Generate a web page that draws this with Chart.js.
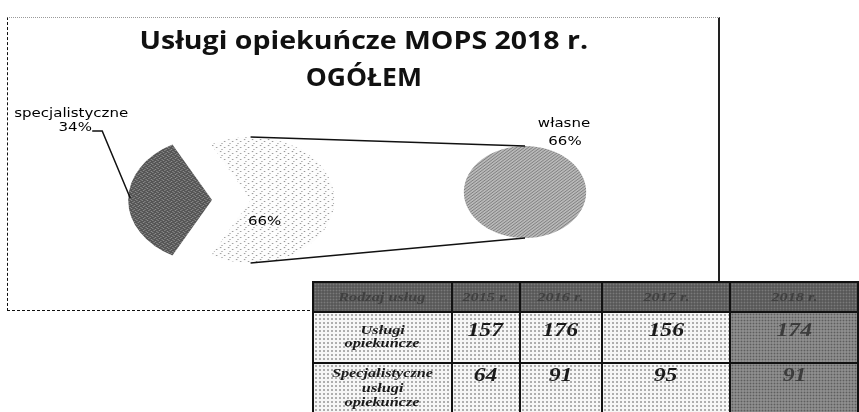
<!DOCTYPE html>
<html lang="pl">
<head>
<meta charset="utf-8">
<script src="https://cdn.jsdelivr.net/npm/chart.js@4.4.1/dist/chart.umd.min.js"></script>
<style>
  html, body { margin: 0; padding: 0; background: #fff; }
  body { width: 859px; height: 412px; position: relative; overflow: hidden; }
  #frame {
    position: absolute; left: 7px; top: 17px; width: 710px; height: 292px;
    border-top: 1px dotted #9a9a9a; border-left: 1px dashed #111;
    border-right: 2px solid #222; border-bottom: 1px dashed #111;
  }
  #frame canvas { position: absolute; left: 0; top: 0; }
  #title {
    position: absolute; left: 7px; top: 21px; width: 713px; text-align: center;
    font-family: "Open Sans", sans-serif; font-weight: 700; font-size: 25px; line-height: 37px; color: #111;
  }
  #title span { display: inline-block; }
  #tbl {
    position: absolute; left: 312px; top: 281px; border-collapse: collapse; table-layout: fixed;
    font-family: "Liberation Serif", serif; font-style: italic; font-weight: bold; color: #1a1a1a;
  }
  #tbl td, #tbl th { border: 2px solid #111; padding: 0; text-align: center; vertical-align: top; overflow: hidden; }
  #tbl th {
    height: 28px; vertical-align: middle; font-size: 13px; color: #404040;
    background: #595959 radial-gradient(circle, #7a7a7a 0.8px, transparent 1.1px); background-size: 3px 3px;
  }
  #tbl td {
    background: #f6f6f6 radial-gradient(circle, #acacac 0.7px, transparent 1px); background-size: 4px 4px;
  }
  #tbl td.hl {
    color: #3c3c3c;
    background: #8d8d8d radial-gradient(circle, #5e5e5e 0.8px, transparent 1.1px); background-size: 3px 3px;
  }
  #tbl span { display: inline-block; transform: scaleX(1.25); }
  #tbl .num { font-size: 19px; line-height: 20px; }
  #tbl .lab { font-size: 13px; }
  #tbl tr.r1 td { height: 49px; }
  #tbl tr.r1 .lab { padding-top: 10px; line-height: 13px; }
  #tbl tr.r1 .num { padding-top: 7px; }
  #tbl tr.r2 td { height: 60px; }
  #tbl tr.r2 .lab { padding-top: 2px; line-height: 14.5px; }
  #tbl tr.r2 .num { padding-top: 1px; }
</style>
</head>
<body>
<div id="frame">
  <canvas id="mainPie" width="710" height="292"></canvas>
  <canvas id="secondPie" width="710" height="292"></canvas>
</div>
<div id="title"><span style="transform:scaleX(1.14)">Usługi opiekuńcze MOPS 2018 r.</span><br><span style="transform:scaleX(1.06)">OGÓŁEM</span></div>
<table id="tbl"></table>

<script>
// 2018: specjalistyczne vs własne (pie of pie)
const categories = ['specjalistyczne', 'własne'];
const values2018 = [91, 174];
const secondCategories = ['własne'];
const secondValues = [174];

// table under the chart
const tableHead = ['Rodzaj usług', '2015 r.', '2016 r.', '2017 r.', '2018 r.'];
const rowLabels = [['Usługi', 'opiekuńcze'], ['Specjalistyczne', 'usługi', 'opiekuńcze']];
const uslugiOpiekuncze = [157, 176, 156, 174];
const uslugiSpecjalistyczne = [64, 91, 95, 91];

const SX = 1.33;          // the scan is stretched sideways
const explode = [0, 29];  // how far each slice of the main pie is pulled out
const total = values2018.reduce((s, v) => s + v, 0);
const pct = v => Math.round(v / total * 100) + '%';

function pattern(base, dot, pts, size) {
  const c = document.createElement('canvas');
  c.width = size; c.height = size;
  const g = c.getContext('2d');
  g.fillStyle = base; g.fillRect(0, 0, size, size);
  g.fillStyle = dot;
  pts.forEach(p => g.fillRect(p[0], p[1], 1, 1));
  return g.createPattern(c, 'repeat');
}

function drawText(ctx, text, x, y) {
  ctx.save();
  ctx.translate(x, y);
  ctx.scale(1.25, 1);
  ctx.font = '12px "DejaVu Sans"';
  ctx.fillStyle = '#000';
  ctx.textAlign = 'center';
  ctx.textBaseline = 'middle';
  ctx.fillText(text, 0, 0);
  ctx.restore();
}

// centre of an exploded slice, in (stretched) canvas coords
function sliceCentre(arc, i) {
  const mid = (arc.startAngle + arc.endAngle) / 2;
  const d = explode[i] || 0;
  return { x: arc.x + Math.cos(mid) * d * SX, y: arc.y + Math.sin(mid) * d };
}

const stretch = {
  id: 'stretch',
  beforeDatasetsDraw(chart) {
    const a = chart.getDatasetMeta(0).data[0];
    const ctx = chart.ctx;
    ctx.save();
    ctx.translate(a.x, a.y);
    ctx.scale(SX, 1);
    ctx.translate(-a.x, -a.y);
  },
  afterDatasetsDraw(chart) {
    chart.ctx.restore();
  }
};

// pull slices out without Chart.js growing their radius
const explodeSlices = {
  id: 'explodeSlices',
  beforeDatasetDraw(chart, args) {
    const ctx = chart.ctx;
    args.meta.data.forEach((arc, i) => {
      const mid = (arc.startAngle + arc.endAngle) / 2;
      const d = explode[i] || 0;
      ctx.save();
      ctx.translate(Math.cos(mid) * d, Math.sin(mid) * d);
      arc.draw(ctx);
      ctx.restore();
    });
    return false;
  }
};

const mainLabels = {
  id: 'mainLabels',
  afterDraw(chart) {
    const ctx = chart.ctx;
    const meta = chart.getDatasetMeta(0);
    const a0 = meta.data[0];
    const ex = a0.x - a0.outerRadius * SX, ey = a0.y;
    ctx.save();
    ctx.strokeStyle = '#111';
    ctx.lineWidth = 1.5;
    ctx.beginPath();
    ctx.moveTo(ex + 2, ey - 2);
    ctx.lineTo(ex - 26, ey - 69);
    ctx.lineTo(ex - 36, ey - 69);
    ctx.stroke();
    ctx.restore();
    drawText(ctx, categories[0], ex - 57, ey - 86);
    drawText(ctx, pct(values2018[0]), ex - 53, ey - 72);

    const c = sliceCentre(meta.data[1], 1);
    drawText(ctx, pct(values2018[1]), c.x + 14, c.y + 22);
  }
};

const mainChart = new Chart(document.getElementById('mainPie'), {
  type: 'pie',
  data: {
    labels: ['specjalistyczne', 'inne'],
    datasets: [{
      data: values2018,
      backgroundColor: [
        pattern('#555555', '#8e8e8e', [[0, 0], [2, 1], [1, 3], [3, 2]], 4),
        pattern('#fdfdfd', '#979797', [[1, 1], [4, 3], [2, 5]], 6)
      ],
      borderWidth: 0
    }]
  },
  options: {
    responsive: false,
    animation: false,
    events: [],
    radius: 63,
    rotation: 270 - values2018[0] / total * 180,
    layout: { padding: { left: 0, right: 302, top: 100, bottom: 28 } },
    plugins: { legend: { display: false }, tooltip: { enabled: false } }
  },
  plugins: [stretch, explodeSlices, mainLabels]
});

const secondLabels = {
  id: 'secondLabels',
  afterDraw(chart) {
    const ctx = chart.ctx;
    const b = chart.getDatasetMeta(0).data[0];
    const a1 = mainChart.getDatasetMeta(0).data[1];
    const c = sliceCentre(a1, 1);
    const r = a1.outerRadius, rb = b.outerRadius;
    ctx.save();
    ctx.strokeStyle = '#111';
    ctx.lineWidth = 1.5;
    ctx.beginPath();
    ctx.moveTo(c.x, c.y - r);
    ctx.lineTo(b.x, b.y - rb);
    ctx.moveTo(c.x, c.y + r);
    ctx.lineTo(b.x, b.y + rb);
    ctx.stroke();
    ctx.restore();
    drawText(ctx, secondCategories[0], b.x + 39, b.y - 68);
    drawText(ctx, pct(secondValues[0]), b.x + 40, b.y - 50);
  }
};

new Chart(document.getElementById('secondPie'), {
  type: 'pie',
  data: {
    labels: secondCategories,
    datasets: [{
      data: secondValues,
      backgroundColor: [pattern('#b9b9b9', '#808080', [[0, 0], [2, 1], [1, 2]], 3)],
      borderWidth: 0
    }]
  },
  options: {
    responsive: false,
    animation: false,
    events: [],
    radius: 46,
    layout: { padding: { left: 417, right: 93, top: 74, bottom: 18 } },
    plugins: { legend: { display: false }, tooltip: { enabled: false } }
  },
  plugins: [stretch, secondLabels]
});

// table
const colWidths = [140, 69, 83, 131, 130];
let html = '<colgroup>' + colWidths.map(w => `<col style="width:${w}px">`).join('') + '</colgroup>';
html += '<tr>' + tableHead.map(h => `<th><span>${h}</span></th>`).join('') + '</tr>';
[uslugiOpiekuncze, uslugiSpecjalistyczne].forEach((row, i) => {
  html += `<tr class="r${i + 1}"><td><div class="lab">` +
    rowLabels[i].map(t => `<span>${t}</span>`).join('<br>') + '</div></td>';
  row.forEach((v, j) => {
    const cls = j === row.length - 1 ? ' class="hl"' : '';
    html += `<td${cls}><div class="num"><span>${v}</span></div></td>`;
  });
  html += '</tr>';
});
document.getElementById('tbl').innerHTML = html;
</script>
</body>
</html>
